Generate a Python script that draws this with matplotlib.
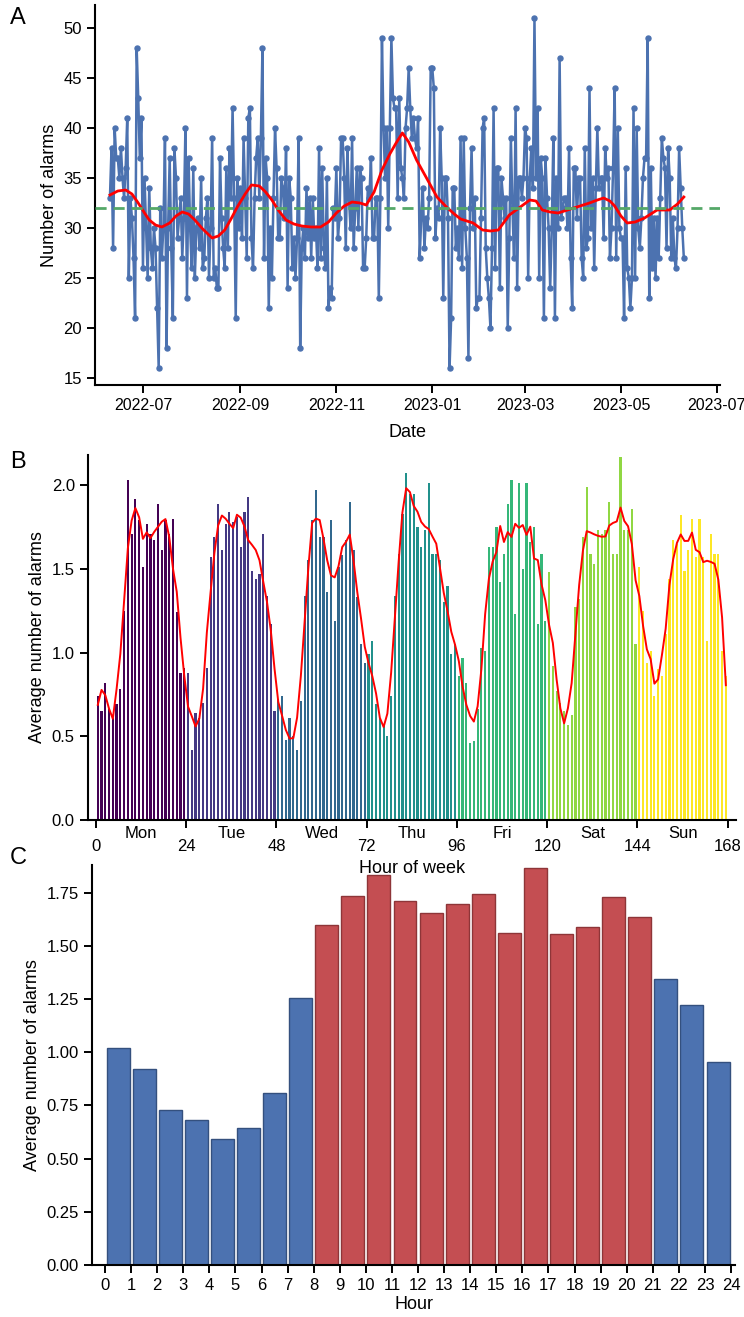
import numpy as np
import pandas as pd
import matplotlib
matplotlib.use("Agg")
import matplotlib.pyplot as plt
import matplotlib.dates as mdates

plt.rcParams['font.family'] = ['Liberation Sans', 'DejaVu Sans']

# ---------------- data ----------------
START_DATE = "2022-06-10"
DAILY_ALARMS = [
    33, 38, 28, 40, 37, 37, 35, 38, 35, 33,
    36, 41, 25, 33, 31, 27, 21, 48, 43, 37,
    41, 26, 35, 30, 25, 34, 28, 26, 30, 28,
    22, 16, 32, 27, 30, 39, 18, 30, 37, 28,
    21, 38, 35, 29, 31, 33, 27, 31, 40, 23,
    37, 30, 26, 36, 25, 30, 31, 28, 35, 26,
    27, 31, 33, 25, 30, 39, 25, 26, 24, 24,
    37, 31, 28, 26, 36, 28, 38, 33, 42, 33,
    21, 35, 30, 34, 29, 39, 33, 27, 41, 42,
    29, 26,
    33, 37, 39, 33, 39, 48, 27, 37,
    35, 22, 30, 25, 33, 40, 36, 29, 29, 35,
    34, 31, 38, 24, 35, 33, 26, 29, 25, 29,
    39, 18, 28, 30, 27, 34, 29, 33, 27, 33,
    29, 30, 26, 38, 27, 36, 28, 26, 35, 22,
    24, 23, 32, 31, 36, 29, 31, 39, 39, 35,
    28, 38, 33, 30, 39, 28, 32, 36, 30, 36,
    35, 26, 26, 29, 34, 33, 37, 29, 29, 33,
    33, 23, 33, 49, 40, 35, 40, 30, 40, 49,
    43, 42, 42, 33, 43, 36, 35, 33, 40, 42,
    46, 42, 39, 41, 39, 38, 41, 27, 31, 34,
    28, 31, 30, 33, 46, 46, 44, 29, 32, 31,
    40, 35, 23, 35, 35, 31, 16, 21, 34, 34,
    28, 30, 27, 39, 26, 39, 30, 27, 17, 32,
    38, 30, 33, 22, 23, 23, 31, 40, 41, 28,
    25, 23, 20, 28, 42, 26, 36, 36, 24, 35,
    33, 31, 33, 20, 29, 39, 32, 27, 42, 24,
    35, 35, 33, 35, 40, 39, 25, 35, 38, 34,
    51, 35, 42, 25, 37, 35, 21, 37, 33, 30,
    24, 30, 39, 21, 35, 30,
    47, 31, 32, 33,
    33, 30, 38, 27, 22, 36, 36, 31, 35, 35,
    27, 25, 38, 28, 29, 44, 30, 35, 26, 34,
    40, 34, 35, 35, 29, 38, 35, 36, 27, 30,
    36, 44, 27, 40, 30, 29, 29, 21, 36, 26,
    25, 22, 25, 42, 25, 40, 30, 28, 31, 35,
    37, 37, 49, 23, 36, 26, 31, 25, 31, 27,
    33, 39, 37, 36, 28, 38, 35, 27, 31, 27,
    26, 30, 38, 34, 30, 27,
]
TREND_DATES = [
    "2022-06-10", "2022-06-15", "2022-06-20", "2022-06-24", "2022-06-28",
    "2022-07-02", "2022-07-05", "2022-07-09", "2022-07-13", "2022-07-18",
    "2022-07-22", "2022-07-26", "2022-07-30", "2022-08-03", "2022-08-08",
    "2022-08-14", "2022-08-18", "2022-08-22", "2022-08-26", "2022-08-30",
    "2022-09-04", "2022-09-08", "2022-09-13", "2022-09-17", "2022-09-21",
    "2022-09-25", "2022-09-30", "2022-10-05", "2022-10-10", "2022-10-16",
    "2022-10-22", "2022-10-27", "2022-11-01", "2022-11-06", "2022-11-11",
    "2022-11-16", "2022-11-20", "2022-11-25", "2022-11-30", "2022-12-05",
    "2022-12-09", "2022-12-13", "2022-12-17", "2022-12-22", "2022-12-28",
    "2023-01-04", "2023-01-10", "2023-01-15", "2023-01-19", "2023-01-27",
    "2023-02-02", "2023-02-07", "2023-02-12", "2023-02-19", "2023-02-26",
    "2023-03-04", "2023-03-08", "2023-03-12", "2023-03-17", "2023-03-22",
    "2023-04-01", "2023-04-11", "2023-04-16", "2023-04-20", "2023-04-24",
    "2023-04-27", "2023-05-01", "2023-05-05", "2023-05-10", "2023-05-16",
    "2023-05-24", "2023-06-01", "2023-06-06", "2023-06-10",
]
TREND_VALUES = [
    33.3, 33.7, 33.8, 33.4, 32.5,
    31.5, 30.8, 30.3, 30.1, 30.5,
    31.2, 31.6, 31.4, 30.8, 29.9,
    29.0, 29.2, 29.8, 30.9, 32.1,
    33.4, 34.3, 34.2, 33.6, 32.8,
    31.8, 30.8, 30.4, 30.2, 30.1,
    30.1, 30.6, 31.5, 32.2, 32.6,
    32.5, 32.3, 33.6, 35.8, 37.4,
    38.5, 39.5, 38.6, 36.8, 35.1,
    33.1, 32.1, 31.4, 30.9, 30.5,
    29.8, 29.7, 29.8, 31.3, 32.1,
    32.8, 32.7, 31.8, 31.6, 31.5,
    32.0, 32.5, 32.8, 33.0, 32.7,
    32.2, 31.2, 30.5, 30.6, 31.0,
    31.8, 31.8, 32.4, 33.1,
]
MEAN_ALARMS = 32.0

DAY_LABELS = ["Mon", "Tue", "Wed", "Thu", "Fri", "Sat", "Sun"]
WEEK_HOUR_AVG = [
    # Mon 0-23
    0.74, 0.65, 0.82, 0.66, 0.61, 0.69, 0.78, 1.25, 2.03, 1.71, 1.92, 1.79,
    1.51, 1.77, 1.71, 1.67, 1.89, 1.61, 1.79, 1.71, 1.80, 1.24, 0.88, 0.91,
    # Tue 24-47
    0.88, 0.42, 0.64, 0.61, 0.70, 0.91, 1.57, 1.69, 1.89, 1.61, 1.77, 1.84,
    1.78, 1.81, 1.63, 1.84, 1.93, 1.49, 1.44, 1.47, 1.71, 1.34, 1.17, 0.65,
    # Wed 48-71
    0.72, 0.74, 0.48, 0.61, 0.50, 0.42, 0.71, 1.34, 1.55, 1.79, 1.97, 1.69,
    1.69, 1.36, 1.79, 1.19, 1.51, 1.58, 1.67, 1.90, 1.61, 1.33, 1.05, 0.94,
    # Thu 72-95
    0.99, 1.07, 0.69, 0.61, 0.56, 0.50, 0.74, 1.34, 1.59, 1.83, 2.07, 1.95,
    1.95, 1.75, 1.63, 1.73, 2.01, 1.59, 1.59, 1.55, 1.30, 1.40, 0.99, 1.05,
    # Fri 96-119
    0.86, 0.97, 0.82, 0.46, 0.47, 0.66, 1.03, 1.01, 1.63, 1.63, 1.75, 1.42,
    1.59, 1.89, 2.03, 1.23, 2.01, 1.50, 2.01, 1.66, 1.75, 1.17, 1.59, 1.19,
    # Sat 120-143
    1.48, 0.92, 0.77, 0.70, 0.65, 0.57, 0.63, 1.27, 1.32, 1.69, 1.99, 1.59,
    1.53, 1.73, 1.71, 1.73, 1.90, 1.59, 1.59, 2.17, 1.73, 1.73, 1.86, 1.05,
    # Sun 144-167
    1.51, 1.25, 0.94, 1.01, 0.74, 0.90, 0.86, 1.11, 1.44, 1.67, 1.65, 1.82,
    1.49, 1.61, 1.80, 1.57, 1.80, 1.57, 1.07, 1.71, 1.59, 1.59, 1.01, 0.86,
]
HOUR_AVG = [1.02, 0.92, 0.73, 0.68, 0.59, 0.645, 0.81, 1.255, 1.60, 1.735,
            1.835, 1.71, 1.655, 1.695, 1.745, 1.56, 1.865, 1.555, 1.59, 1.73,
            1.635, 1.345, 1.22, 0.955]
DAY_START, DAY_END = 8, 20


def savgol(y, window=9, order=3):
    y = np.asarray(y, float)
    half = window // 2
    x = np.arange(-half, half + 1)
    A = np.vander(x, order + 1, increasing=True)
    coeffs = np.linalg.pinv(A)[0]
    out = np.convolve(y, coeffs[::-1], mode='same')
    p = np.polyfit(np.arange(window), y[:window], order)
    out[:half] = np.polyval(p, np.arange(half))
    p = np.polyfit(np.arange(window), y[-window:], order)
    out[-half:] = np.polyval(p, np.arange(window - half, window))
    return out


# ---------------- figure ----------------
W, H = 744, 1317
fig = plt.figure(figsize=(W / 100, H / 100), dpi=100)


def rect(l, t, r, b):
    return [l / W, 1 - b / H, (r - l) / W, (b - t) / H]


def style(ax):
    for s in ['top', 'right']:
        ax.spines[s].set_visible(False)
    for s in ['left', 'bottom']:
        ax.spines[s].set_linewidth(1.5)
    ax.tick_params(axis='both', which='major', labelsize=12, width=1.4, length=6, color='black')
    ax.set_facecolor('none')


BLUE = '#4c72b0'
RED_BAR = '#c44e52'
GREEN = '#55a868'

# Panel A
axA = fig.add_axes(rect(95, 5, 720, 385))
dates = pd.date_range(START_DATE, periods=len(DAILY_ALARMS), freq='D')
axA.plot(dates, DAILY_ALARMS, color=BLUE, lw=1.8, marker='o', ms=3.6, zorder=2)
axA.plot(pd.to_datetime(TREND_DATES), TREND_VALUES, color='red', lw=2.0, zorder=3)
axA.axhline(MEAN_ALARMS, color=GREEN, ls=(0, (4, 2.5)), lw=2.0, zorder=4)
axA.set_ylim(14.3, 52.3)
axA.set_xlim(pd.Timestamp('2022-05-31 12:00'), pd.Timestamp('2023-07-03'))
axA.xaxis.set_major_locator(mdates.MonthLocator(bymonth=[1, 3, 5, 7, 9, 11]))
axA.xaxis.set_major_formatter(mdates.DateFormatter('%Y-%m'))
axA.set_yticks([15, 20, 25, 30, 35, 40, 45, 50])
style(axA)
axA.tick_params(axis='x', labelsize=11.5)
axA.set_xlabel('Date', fontsize=13, labelpad=8)
axA.set_ylabel('Number of alarms', fontsize=13)

# Panel B
axB = fig.add_axes(rect(88, 455, 736, 820))
hours = np.arange(len(WEEK_HOUR_AVG))
cmap = plt.get_cmap('viridis')
day_cols = [cmap(v) for v in np.linspace(0, 1, 7)]
axB.bar(hours + 0.5, WEEK_HOUR_AVG, width=0.58,
        color=[day_cols[h // 24] for h in hours], zorder=2)
axB.plot(hours + 0.5, savgol(WEEK_HOUR_AVG), color='red', lw=1.4, zorder=3)
axB.set_xlim(-2.1, 170.2)
axB.set_ylim(0, 2.18)
axB.set_xticks(np.arange(0, 169, 24))
axB.set_xticks(np.arange(12, 168, 24), minor=True)
axB.set_xticklabels(DAY_LABELS, minor=True)
axB.set_yticks([0, 0.5, 1.0, 1.5, 2.0])
style(axB)
axB.tick_params(axis='x', which='major', pad=8)
axB.tick_params(axis='x', which='minor', length=0, pad=4, labelsize=12)
axB.set_xlabel('Hour of week', fontsize=13, labelpad=4)
axB.set_ylabel('Average number of alarms', fontsize=13)

# Panel C
axC = fig.add_axes(rect(92, 865, 735, 1265))
hh = np.arange(len(HOUR_AVG))
is_day = (hh >= DAY_START) & (hh <= DAY_END)
axC.bar(hh + 0.5, HOUR_AVG, width=0.88,
        color=[RED_BAR if d else BLUE for d in is_day],
        edgecolor=['#8e3538' if d else '#34507e' for d in is_day], lw=1.0, zorder=2)
axC.set_xlim(-0.5, 24.15)
axC.set_ylim(0, 1.88)
axC.set_xticks(np.arange(0, 25))
axC.set_yticks(np.arange(0, 1.76, 0.25))
axC.yaxis.set_major_formatter(matplotlib.ticker.FormatStrFormatter('%.2f'))
style(axC)
axC.set_xlabel('Hour', fontsize=13, labelpad=2)
axC.set_ylabel('Average number of alarms', fontsize=13)

for lab, y in [('A', 18), ('B', 462), ('C', 858)]:
    fig.text(10 / W, 1 - y / H, lab, fontsize=17, ha='left', va='center')

fig.savefig('out.png', dpi=100)
